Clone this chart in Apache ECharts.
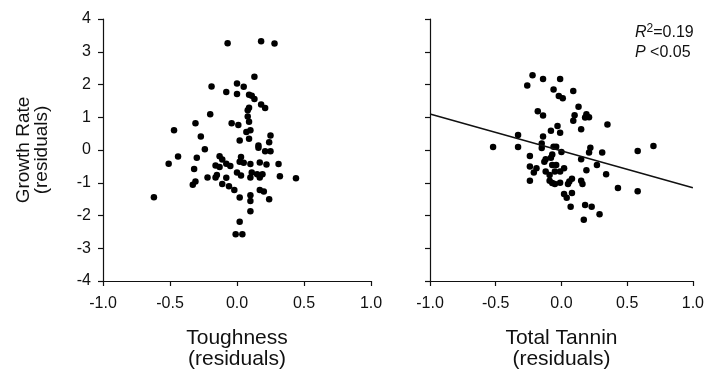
<!DOCTYPE html>
<html>
<head>
<meta charset="utf-8">
<script src="https://cdn.jsdelivr.net/npm/echarts@6/dist/echarts.min.js"></script>
<style>
  html, body { margin: 0; padding: 0; background: #fff; }
  #chart { width: 707px; height: 375px; }
</style>
</head>
<body>
<div id="chart"></div>
<script>
// toughness residuals vs growth rate residuals (left panel)
var toughnessPts = [
    [-0.07,3.26],[0.18,3.32],[0.28,3.25],[0.13,2.24],[-0.19,1.94],[0.00,2.03],[0.05,1.93],
    [-0.08,1.77],[0.00,1.71],[0.09,1.69],[0.11,1.66],[0.13,1.56],[0.18,1.39],[0.21,1.28],
    [0.09,1.29],[0.08,1.21],[-0.20,1.09],[0.08,1.02],[0.09,0.86],[-0.31,0.82],[-0.04,0.82],
    [0.01,0.76],[-0.47,0.60],[0.07,0.55],[0.10,0.60],[-0.27,0.41],[0.25,0.44],
    [0.02,0.29],[0.09,0.34],[0.24,0.24],[0.16,0.14],[0.16,0.07],[-0.24,0.02],[0.21,-0.04],
    [0.25,-0.04],[-0.44,-0.20],[-0.30,-0.24],[-0.13,-0.19],[-0.11,-0.29],[0.03,-0.21],
    [-0.51,-0.42],[-0.16,-0.47],[-0.13,-0.52],[-0.08,-0.42],[-0.05,-0.49],[0.02,-0.36],
    [0.05,-0.39],[0.10,-0.43],[0.17,-0.38],[0.22,-0.44],[0.31,-0.43],[-0.32,-0.58],
    [0.00,-0.69],[0.03,-0.78],[0.11,-0.69],[0.15,-0.74],[0.19,-0.74],[0.10,-0.84],
    [0.17,-0.84],[0.32,-0.80],[0.44,-0.86],[-0.22,-0.84],[-0.16,-0.84],[-0.15,-0.76],
    [-0.08,-0.85],[-0.31,-0.96],[-0.33,-1.06],[-0.11,-1.04],[-0.06,-1.11],[-0.02,-1.22],
    [0.17,-1.22],[0.20,-1.27],[-0.62,-1.44],[0.02,-1.45],[0.10,-1.38],[0.10,-1.56],
    [0.24,-1.50],[0.10,-1.87],[0.02,-2.19],[-0.01,-2.57],[0.04,-2.57]
];

// total tannin residuals vs growth rate residuals (right panel)
var tanninPts = [
    [-0.22,2.28],[-0.14,2.17],[-0.01,2.17],[-0.26,1.97],[-0.06,1.85],[0.09,1.80],[-0.02,1.65],
    [0.01,1.58],[0.13,1.32],[-0.18,1.18],[-0.14,1.05],[0.10,1.06],[0.09,0.89],[0.19,1.09],
    [0.21,1.00],[0.18,0.99],[0.35,0.78],[0.15,0.63],[-0.33,0.46],[-0.03,0.73],[-0.08,0.59],
    [-0.01,0.53],[-0.14,0.41],[-0.15,0.20],
    [-0.52,0.09],[-0.33,0.09],[-0.15,0.06],[-0.06,0.10],[-0.04,0.10],[0.00,-0.06],[0.22,0.07],
    [0.21,-0.08],[0.31,-0.08],[0.58,-0.03],[0.70,0.12],[-0.24,-0.18],[-0.07,-0.14],
    [-0.08,-0.24],[-0.12,-0.28],[-0.13,-0.36],[0.15,-0.28],[0.27,-0.46],[-0.24,-0.50],
    [-0.19,-0.56],[-0.21,-0.69],[-0.07,-0.46],[-0.04,-0.46],[0.02,-0.56],[-0.01,-0.66],
    [-0.05,-0.66],[-0.12,-0.66],[-0.09,-0.76],[0.19,-0.62],[0.34,-0.74],[-0.24,-0.94],
    [-0.09,-0.94],[-0.07,-1.01],[-0.05,-1.04],[-0.01,-1.00],[0.05,-1.04],[0.06,-0.96],
    [0.08,-0.88],[0.15,-0.94],[0.16,-1.04],[0.43,-1.16],[0.58,-1.26],[0.02,-1.34],
    [0.04,-1.46],[0.08,-1.31],[0.07,-1.73],[0.18,-1.68],[0.23,-1.73],[0.29,-1.96],[0.17,-2.13]
];

// regression line on tannin panel
var fitX = [-1, 1];
var fitY = [1.1, -1.15];

var xNames = ['Toughness\n(residuals)', 'Total Tannin\n(residuals)'];
var yName = 'Growth Rate\n(residuals)';

var font = "'Liberation Sans', Arial, Helvetica, sans-serif";
var ink = '#111';

function xAxisFor(idx) {
    return {
        type: 'value', gridIndex: idx, min: -1, max: 1, interval: 0.5,
        name: xNames[idx], nameLocation: 'middle', nameGap: 47,
        nameTextStyle: { fontFamily: font, fontSize: 21, lineHeight: 21, color: ink },
        axisLine: { show: true, onZero: false, lineStyle: { color: ink, width: 1.2 } },
        axisTick: { show: true, length: 5, lineStyle: { color: ink, width: 1.2 } },
        axisLabel: {
            fontFamily: font, fontSize: 16, color: ink, margin: 15,
            formatter: function (v) { return v.toFixed(1); }
        },
        splitLine: { show: false }
    };
}

function yAxisFor(idx) {
    var ax = {
        type: 'value', gridIndex: idx, min: -4, max: 4, interval: 1,
        axisLine: { show: true, onZero: false, lineStyle: { color: ink, width: 1.2 } },
        axisTick: { show: true, length: 5, lineStyle: { color: ink, width: 1.2 } },
        axisLabel: { show: idx === 0, fontFamily: font, fontSize: 16, color: ink, margin: 12 },
        splitLine: { show: false }
    };
    if (idx === 0) {
        ax.name = yName;
        ax.nameLocation = 'middle';
        ax.nameGap = 52;
        ax.nameTextStyle = { fontFamily: font, fontSize: 19, lineHeight: 18, color: ink };
    }
    return ax;
}

var chart = echarts.init(document.getElementById('chart'));

var fitData = fitX.map(function (x, i) { return [x, fitY[i]]; });

var option = {
    animation: false,
    backgroundColor: '#fff',
    textStyle: { fontFamily: font },
    title: {
        left: 630, top: 18,
        text: '{i|R}{sup|2}{n|=0.19}\n{i|P}{n| <0.05}',
        textStyle: {
            fontWeight: 'normal',
            rich: {
                i: { fontFamily: font, fontSize: 16, fontStyle: 'italic', fontWeight: 'normal', color: ink, lineHeight: 20 },
                sup: { fontFamily: font, fontSize: 12, fontWeight: 'normal', color: ink, verticalAlign: 'top', lineHeight: 20, padding: [0, 0, 6, 0] },
                n: { fontFamily: font, fontSize: 16, fontWeight: 'normal', color: ink, lineHeight: 20 }
            }
        }
    },
    grid: [
        { left: 103, width: 268, top: 19, height: 268 },
        { left: 430, width: 268, top: 19, height: 268 }
    ],
    xAxis: [xAxisFor(0), xAxisFor(1)],
    yAxis: [yAxisFor(0), yAxisFor(1)],
    series: [
        {
            type: 'scatter', xAxisIndex: 0, yAxisIndex: 0,
            symbolSize: 6.5, itemStyle: { color: '#000', opacity: 1 },
            data: toughnessPts
        },
        {
            type: 'scatter', xAxisIndex: 1, yAxisIndex: 1,
            symbolSize: 6.5, itemStyle: { color: '#000', opacity: 1 },
            data: tanninPts
        },
        {
            type: 'line', xAxisIndex: 1, yAxisIndex: 1,
            symbol: 'none', lineStyle: { color: ink, width: 1.5 },
            data: fitData
        }
    ]
};

chart.setOption(option);
</script>
</body>
</html>
